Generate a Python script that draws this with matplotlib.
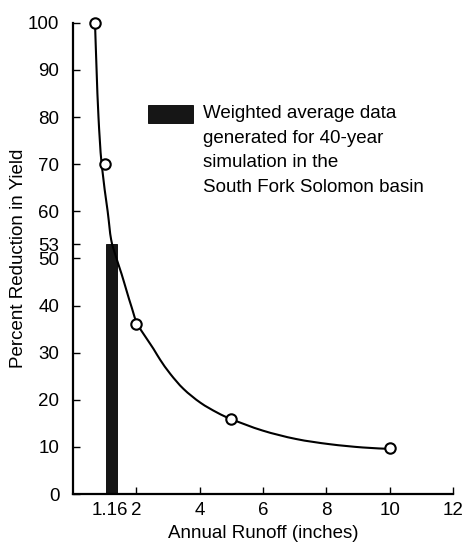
"""Percent reduction in yield vs annual runoff, with the 40-year weighted average bar."""
import matplotlib

matplotlib.use("Agg")
import matplotlib.pyplot as plt
from matplotlib.patches import PathPatch, Rectangle
from matplotlib.path import Path

plt.rcParams["font.family"] = ["Liberation Sans", "DejaVu Sans"]

# observed points (circles)
runoff_in = [0.7, 1.0, 2, 5, 10]
reduction_pct = [100, 70, 36, 16, 9.7]

# fitted curve
curve_x = [0.69, 0.74, 0.80, 0.90, 1.09, 1.20, 1.36, 1.53, 1.69, 1.85, 2.04,
           2.54, 2.75, 3.07, 3.49, 4.02, 4.55, 5.0, 5.98, 7.04, 8.1, 9.15, 10.0]
curve_y = [100, 90, 80, 70, 60, 54, 50.2, 46.7, 43.1, 39.6, 36.0,
           30.8, 28.5, 25.5, 22.3, 19.4, 17.3, 15.9, 13.5, 11.7, 10.6, 9.9, 9.6]

# weighted average for the 40-year simulation
avg_runoff = 1.16
avg_reduction = 53

x_ticks = [1.16, 2, 4, 6, 8, 10, 12]
x_ticklabels = ["1.16", "2", "4", "6", "8", "10", "12"]
y_ticks = [0, 10, 20, 30, 40, 50, 53, 60, 70, 80, 90, 100]

legend_text = ("Weighted average data\ngenerated for 40-year\n"
               "simulation in the\nSouth Fork Solomon basin")

FS = 13.5


def smooth_path(xs, ys):
    # Catmull-Rom through the read points, as cubic Bezier segments
    pts = list(zip(xs, ys))
    verts = [pts[0]]
    codes = [Path.MOVETO]
    for i in range(len(pts) - 1):
        p0 = pts[i - 1] if i > 0 else pts[i]
        p1, p2 = pts[i], pts[i + 1]
        p3 = pts[i + 2] if i + 2 < len(pts) else pts[i + 1]
        c1 = (p1[0] + (p2[0] - p0[0]) / 6, p1[1] + (p2[1] - p0[1]) / 6)
        c2 = (p2[0] - (p3[0] - p1[0]) / 6, p2[1] - (p3[1] - p1[1]) / 6)
        verts += [c1, c2, p2]
        codes += [Path.CURVE4] * 3
    return Path(verts, codes)


fig = plt.figure(figsize=(4.66, 5.43), dpi=100, facecolor="white")
ax = fig.add_axes([0.157, 0.090, 0.815, 0.868])

ax.bar([avg_runoff - 0.11], [avg_reduction], width=0.34, align="edge",
       color="#161616", edgecolor="black", linewidth=0.6, zorder=2)
ax.add_patch(PathPatch(smooth_path(curve_x, curve_y), facecolor="none",
                       edgecolor="black", linewidth=1.5, zorder=3))
ax.plot(runoff_in, reduction_pct, linestyle="none", marker="o", markersize=7.5,
        markerfacecolor="white", markeredgecolor="black", markeredgewidth=1.5,
        zorder=4, clip_on=False)

ax.set_xlim(0, 12)
ax.set_ylim(0, 100)
ax.set_xticks(x_ticks)
ax.set_xticklabels(x_ticklabels)
ax.set_yticks(y_ticks)
ax.tick_params(direction="in", length=5, width=1, labelsize=FS)
ax.tick_params(axis="y", pad=10)
ax.tick_params(axis="x", pad=6)

for spine in ("top", "right"):
    ax.spines[spine].set_visible(False)
for spine in ("left", "bottom"):
    ax.spines[spine].set_linewidth(1.6)

ax.set_xlabel("Annual Runoff (inches)", fontsize=FS, labelpad=4)
ax.set_ylabel("Percent Reduction in Yield", fontsize=FS, labelpad=0.5)

# legend swatch + text, top-aligned like the original
ax.add_patch(Rectangle((0.198, 0.787), 0.118, 0.039, transform=ax.transAxes,
                       facecolor="#161616", edgecolor="black", linewidth=0.6,
                       clip_on=False))
ax.text(0.342, 0.826, legend_text, transform=ax.transAxes, ha="left", va="top",
        fontsize=FS, linespacing=1.6)

fig.savefig("out.png", dpi=100, facecolor="white")
